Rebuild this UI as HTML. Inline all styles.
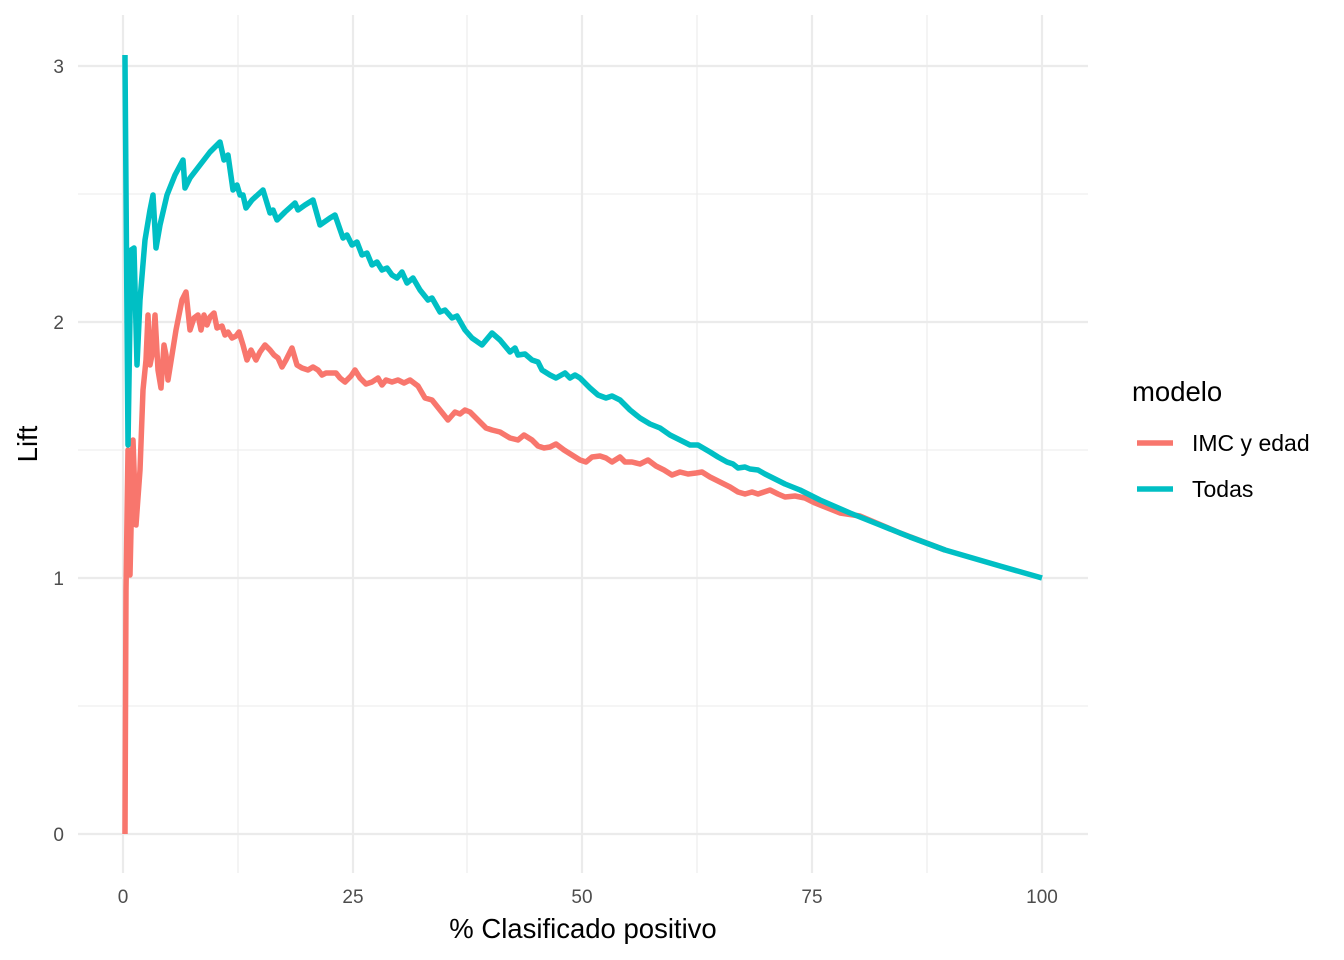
<!DOCTYPE html>
<html><head><meta charset="utf-8"><style>
html,body{margin:0;padding:0;background:#fff;}
svg{display:block;font-family:"Liberation Sans",sans-serif;}
</style></head><body>
<svg width="1344" height="960" viewBox="0 0 1344 960">
<rect width="1344" height="960" fill="#fff"/>
<g stroke="#ebebeb" stroke-width="1.1" fill="none">
<line x1="78" x2="1088" y1="706" y2="706"/><line x1="78" x2="1088" y1="450" y2="450"/><line x1="78" x2="1088" y1="194" y2="194"/>
<line y1="15" y2="873" x1="238" x2="238"/><line y1="15" y2="873" x1="467" x2="467"/><line y1="15" y2="873" x1="697" x2="697"/><line y1="15" y2="873" x1="927" x2="927"/>
</g>
<g stroke="#ebebeb" stroke-width="2.2" fill="none">
<line x1="78" x2="1088" y1="834" y2="834"/><line x1="78" x2="1088" y1="578" y2="578"/><line x1="78" x2="1088" y1="322" y2="322"/><line x1="78" x2="1088" y1="66" y2="66"/>
<line y1="15" y2="873" x1="123" x2="123"/><line y1="15" y2="873" x1="353" x2="353"/><line y1="15" y2="873" x1="582" x2="582"/><line y1="15" y2="873" x1="812" x2="812"/><line y1="15" y2="873" x1="1042" x2="1042"/>
</g>
<polyline fill="none" stroke="#F8766D" stroke-width="5.5" stroke-linejoin="round" points="125,834 126,590 128,450 130,575 133,440 136,525 140,470 143,390 146,360 148,315 150,365 153,350 155,315 158,370 161,388 164,345 166,355 168,380 172,355 176,330 182,300 186,292 190,330 194,318 198,315 201,330 204,315 207,325 210,317 214,313 217,328 222,326 225,335 228,332 232,338 236,336 239,332 243,345 247,360 251,350 256,360 260,352 265,345 270,350 274,355 278,358 282,367 286,360 292,348 297,365 302,368 308,370 313,367 318,370 322,375 326,373 331,373 336,373 340,378 345,382 351,376 355,370 360,378 366,384 372,382 378,378 382,385 386,380 392,382 398,380 404,383 410,380 418,386 425,398 432,400 440,410 448,420 455,412 460,414 465,410 470,412 478,420 486,428 492,430 500,432 510,438 518,440 524,435 532,440 538,446 544,448 550,447 556,444 564,450 572,455 580,460 586,462 592,457 600,456 606,458 612,462 620,457 625,462 632,462 640,464 648,460 656,466 664,470 672,475 680,472 688,474 696,473 702,472 710,477 720,482 730,487 738,492 745,494 752,492 758,494 764,492 770,490 778,494 785,497 795,496 805,498 815,503 825,507 840,513 860,516 900,533 945,550"/>
<polyline fill="none" stroke="#00BFC4" stroke-width="5.5" stroke-linejoin="round" points="125,55 125,60 128,445 131,250 134,248 137,365 140,300 145,240 150,210 153,195 156,248 160,225 167,195 175,175 183,160 185,188 190,178 200,165 210,152 220,142 224,160 228,155 233,190 237,185 240,195 243,195 246,208 252,200 263,190 270,213 273,210 277,220 285,212 295,203 298,210 305,205 313,200 320,225 330,218 335,215 343,238 347,235 352,245 357,242 362,255 367,253 372,265 377,262 382,270 387,268 392,275 397,278 402,272 407,283 413,278 420,290 428,300 432,298 440,312 445,310 452,318 457,316 465,330 472,338 482,345 492,333 500,340 510,352 515,348 518,355 525,354 532,360 538,362 542,370 550,375 556,378 565,373 570,378 575,375 580,378 590,388 598,395 606,398 612,396 620,400 630,410 640,418 650,424 660,428 670,435 680,440 690,445 698,445 710,452 718,457 727,462 733,464 738,468 745,467 750,469 758,470 765,474 775,479 785,484 790,486 800,490 820,500 850,513 880,525 910,537 945,550 1000,566 1042,578"/>
<g fill="#4d4d4d" font-size="19" text-anchor="end">
<text x="64" y="841">0</text><text x="64" y="585">1</text><text x="64" y="329">2</text><text x="64" y="73">3</text>
</g>
<g fill="#4d4d4d" font-size="19" text-anchor="middle">
<text x="123" y="903">0</text><text x="353" y="903">25</text><text x="582" y="903">50</text><text x="812" y="903">75</text><text x="1042" y="903">100</text>
</g>
<text x="583" y="938" font-size="27.5" text-anchor="middle" fill="#000">% Clasificado positivo</text>
<text transform="translate(37,444) rotate(-90)" font-size="27.5" text-anchor="middle" fill="#000">Lift</text>
<text x="1132" y="401" font-size="27.5" fill="#000">modelo</text>
<line x1="1137" x2="1173" y1="443" y2="443" stroke="#F8766D" stroke-width="5.5"/>
<line x1="1137" x2="1173" y1="489" y2="489" stroke="#00BFC4" stroke-width="5.5"/>
<text x="1192" y="451" font-size="23" fill="#000">IMC y edad</text>
<text x="1192" y="497" font-size="23" fill="#000">Todas</text>
</svg>
</body></html>
